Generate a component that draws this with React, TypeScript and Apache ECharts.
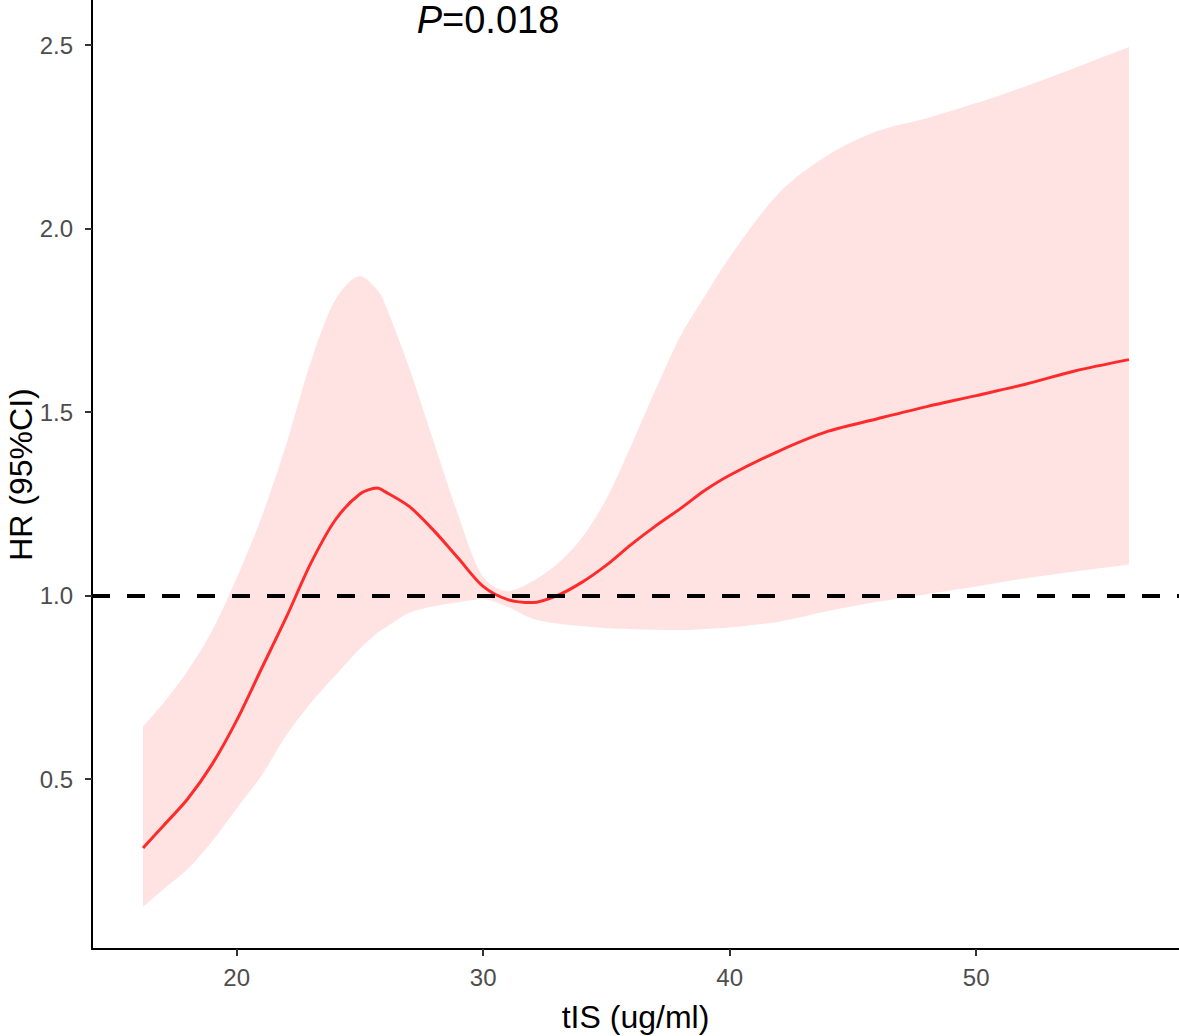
import React, { useEffect, useRef } from "react";
import * as echarts from "echarts";

const xValues = [16.2, 17, 18, 19, 20, 21, 22, 23, 24, 25, 25.7, 26, 27, 28, 29, 30, 31, 32, 33, 34, 35, 36, 37, 38, 39, 40, 42, 44, 46, 48, 50, 52, 54, 56.2];
const hrValues = [0.312, 0.371, 0.445, 0.54, 0.66, 0.8, 0.939, 1.087, 1.206, 1.277, 1.293, 1.284, 1.243, 1.177, 1.101, 1.025, 0.989, 0.981, 1.0, 1.036, 1.083, 1.139, 1.19, 1.237, 1.287, 1.328, 1.394, 1.448, 1.482, 1.515, 1.545, 1.576, 1.612, 1.643];
const upperValues = [0.643, 0.705, 0.794, 0.904, 1.048, 1.212, 1.41, 1.635, 1.806, 1.871, 1.834, 1.797, 1.62, 1.418, 1.217, 1.05, 1.012, 1.039, 1.086, 1.157, 1.264, 1.408, 1.562, 1.707, 1.817, 1.922, 2.097, 2.201, 2.266, 2.301, 2.342, 2.388, 2.438, 2.495];
const lowerValues = [0.152, 0.198, 0.254, 0.33, 0.42, 0.509, 0.618, 0.707, 0.782, 0.855, 0.898, 0.911, 0.953, 0.971, 0.982, 0.99, 0.969, 0.937, 0.924, 0.917, 0.911, 0.909, 0.907, 0.906, 0.909, 0.913, 0.929, 0.958, 0.983, 1.004, 1.025, 1.047, 1.066, 1.085];
const xTicks = [20, 30, 40, 50];
const yTicks = [0.5, 1.0, 1.5, 2.0, 2.5];
const referenceHR = 1;
const pText = "=0.018";

export default function App() {
  const ref = useRef<HTMLDivElement>(null);
  useEffect(() => {
    if (!ref.current) return;
    const chart = echarts.init(ref.current, null, { renderer: "svg" });
    const font = "Liberation Sans, Arial, sans-serif";
    const upperData = xValues.map((x, i) => [x, upperValues[i]]);
    const lowerData = xValues.map((x, i) => [x, lowerValues[i]]);
    const lineData = xValues.map((x, i) => [x, hrValues[i]]);
    chart.setOption({
      animation: false,
      backgroundColor: "#ffffff",
      grid: { left: 92, right: 0, top: 0, bottom: 87, containLabel: false, outerBoundsMode: "none" },
      xAxis: {
        type: "value",
        min: 14.13,
        max: 58.23,
        name: "tIS (ug/ml)",
        nameLocation: "middle",
        nameGap: 52,
        nameTextStyle: { fontSize: 32, color: "#000", fontFamily: font },
        splitLine: { show: false },
        axisLine: { lineStyle: { color: "#000", width: 2 } },
        axisTick: { customValues: xTicks, length: 7, lineStyle: { color: "#333", width: 2 } },
        axisLabel: { customValues: xTicks, fontSize: 24, color: "#4d4d4d", fontFamily: font, margin: 16 },
      },
      yAxis: {
        type: "value",
        min: 0.037,
        max: 2.623,
        name: "HR (95%CI)",
        nameLocation: "middle",
        nameGap: 55,
        nameMoveOverlap: false,
        nameTextStyle: { fontSize: 32, color: "#000", fontFamily: font },
        splitLine: { show: false },
        axisLine: { show: true, lineStyle: { color: "#000", width: 2 } },
        axisTick: { show: true, customValues: yTicks, length: 7, lineStyle: { color: "#333", width: 2 } },
        axisLabel: {
          customValues: yTicks,
          fontSize: 24,
          color: "#4d4d4d",
          fontFamily: font,
          margin: 19,
          formatter: (v: number) => v.toFixed(1),
        },
      },
      graphic: [
        {
          type: "text",
          x: 488,
          y: 20,
          z: 100,
          style: {
            text: "{i|P}{n|" + pText + "}",
            textAlign: "center",
            textVerticalAlign: "middle",
            rich: {
              i: { fontSize: 38, fontStyle: "italic", fontFamily: font, fill: "#000" },
              n: { fontSize: 38, fontFamily: font, fill: "#000" },
            },
          },
        },
      ],
      series: [
        {
          type: "line",
          data: upperData,
          symbol: "none",
          smooth: 0.3,
          z: 1,
          silent: true,
          lineStyle: { width: 0, opacity: 0 },
          areaStyle: { color: "#ffe3e3", opacity: 1, origin: 0.1 },
        },
        {
          type: "line",
          data: lowerData,
          symbol: "none",
          smooth: 0.3,
          z: 1.5,
          silent: true,
          lineStyle: { width: 0, opacity: 0 },
          areaStyle: { color: "#ffffff", opacity: 1, origin: 0.1 },
        },
        {
          type: "line",
          data: [],
          symbol: "none",
          z: 2,
          markLine: {
            silent: true,
            symbol: "none",
            label: { show: false },
            lineStyle: { color: "#000", width: 4, type: [18, 17] },
            data: [{ yAxis: referenceHR }],
          },
        },
        {
          type: "line",
          data: lineData,
          symbol: "none",
          smooth: 0.3,
          z: 3,
          lineStyle: { color: "#ff2b2b", width: 3 },
        },
      ],
    });
    return () => chart.dispose();
  }, []);
  return (
    <div
      ref={ref}
      style={{ position: "fixed", left: 0, top: 0, width: 1179, height: 1036, background: "#fff" }}
    />
  );
}
